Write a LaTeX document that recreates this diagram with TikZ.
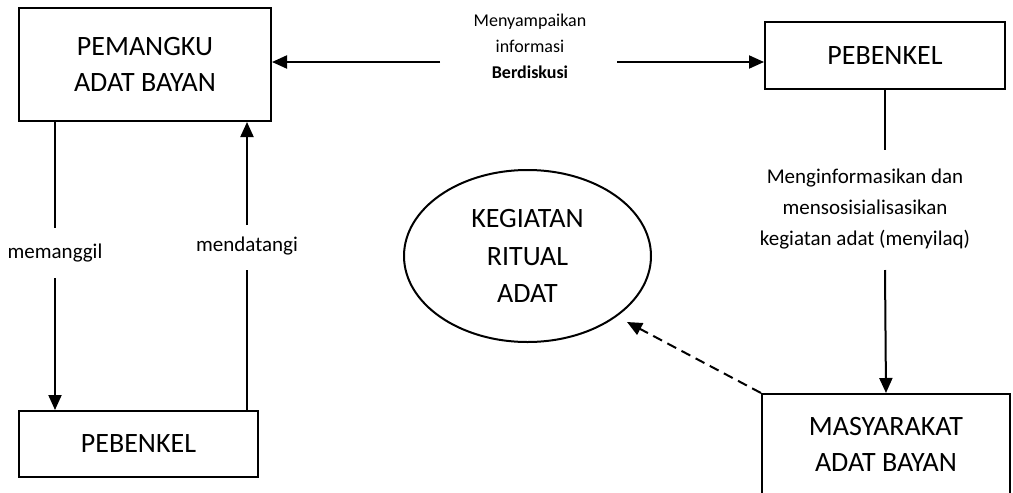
\documentclass[tikz,border=0pt]{standalone}
\usepackage{fontspec}
\setmainfont{Carlito}
\usetikzlibrary{arrows.meta,shapes.geometric,positioning}

\begin{document}
\begin{tikzpicture}[x=1pt,y=-1pt,line width=2pt,
		kotak/.style={draw,rectangle,align=center,inner sep=0pt,font=\fontsize{28}{36}\selectfont},
		ket/.style={align=center,inner sep=0pt,font=\fontsize{21}{31}\selectfont},
		panah/.style={-{Triangle[length=15pt,width=13pt]}}]
	\useasboundingbox (0,0) rectangle (1013,493);
	% kotak dan elips
	\node[kotak,minimum width=252pt,minimum height=113pt] (pemangku) at (145,64.5) {PEMANGKU\\ADAT BAYAN};
	\node[kotak,minimum width=240pt,minimum height=67pt] (pebenkelA) at (885,55.5) {PEBENKEL};
	\node[kotak,minimum width=239pt,minimum height=66pt] (pebenkelB) at (138.5,444) {PEBENKEL};
	\node[kotak,minimum width=248pt,minimum height=100pt] (masyarakat) at (886,444) {MASYARAKAT\\ADAT BAYAN};
	\node[kotak,ellipse,minimum width=247pt,minimum height=172pt,font=\fontsize{28}{37.5}\selectfont] (kegiatan) at (527.5,256) {KEGIATAN\\RITUAL\\ADAT};
	% keterangan
	\node[ket,font=\fontsize{18}{26}\selectfont] (diskusi) at (530,46) {Menyampaikan\\informasi\\\textbf{Berdiskusi}};
	\node[ket] (info) at (865,209) {Menginformasikan dan\\mensosisialisasikan\\kegiatan adat (menyilaq)};
	\node[ket] (panggil) at (55,253) {memanggil};
	\node[ket] (datang) at (247,246) {mendatangi};
	% ujung garis yang bebas
	\coordinate (kiri) at (440,62);
	\coordinate (kanan) at (617,62);
	\coordinate (infoatas) at (885,150);
	\coordinate (infobawah) at (885,270);
	\coordinate (panggilA) at (55,228);
	\coordinate (panggilB) at (55,278);
	\coordinate (datangA) at (247,225);
	\coordinate (datangB) at (247,270);
	\coordinate (ritual) at (627,322);
	% panah
	\draw[panah] (kiri) -- (kiri -| pemangku.east);
	\draw[panah] (kanan) -- (kanan -| pebenkelA.west);
	\draw (pebenkelA.south) -- (infoatas);
	\draw[panah] (infobawah) -- (masyarakat.north);
	\draw (panggilA |- pemangku.south) -- (panggilA);
	\draw[panah] (panggilB) -- (panggilB |- pebenkelB.north);
	\draw (datangB |- pebenkelB.north) -- (datangB);
	\draw[panah] (datangA) -- (datangA |- pemangku.south);
	\draw[panah,dash pattern=on 10pt off 6pt] (masyarakat.north west) -- (ritual);
\end{tikzpicture}
\end{document}
